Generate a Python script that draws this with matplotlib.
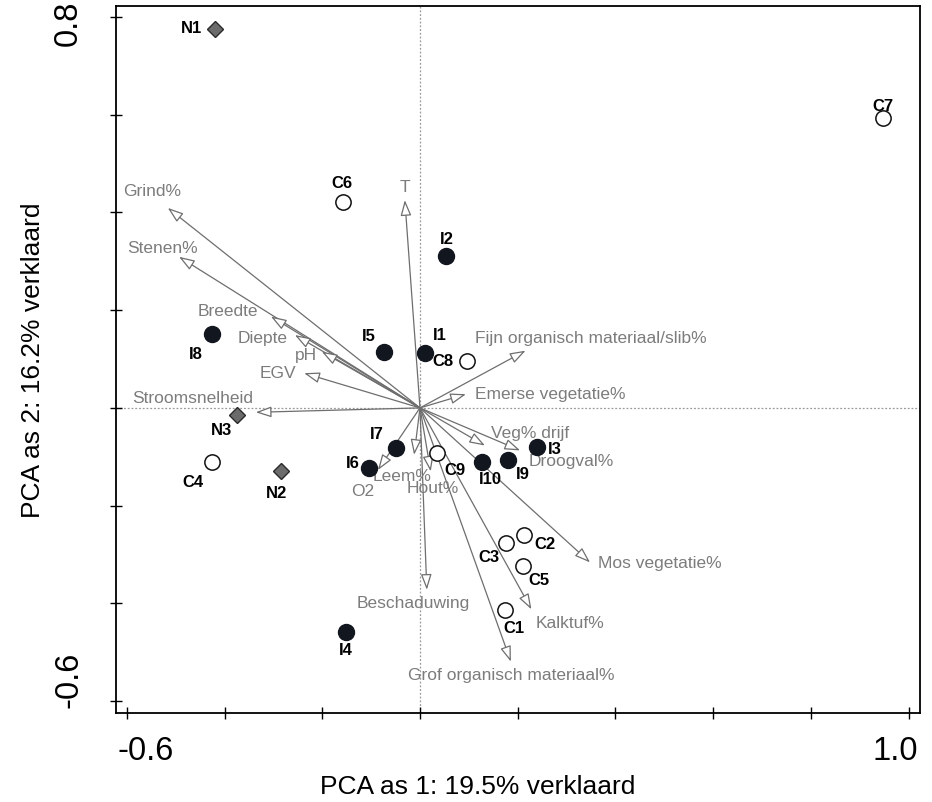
import numpy as np
from matplotlib import pyplot as plt

plt.rcParams['font.family'] = ['Liberation Sans', 'DejaVu Sans']

# site scores (PCA axis 1 / axis 2)
sites = ['N1', 'N2', 'N3',
         'C1', 'C2', 'C3', 'C4', 'C5', 'C6', 'C7', 'C8', 'C9',
         'I1', 'I2', 'I3', 'I4', 'I5', 'I6', 'I7', 'I8', 'I9', 'I10']
site_group = ['N', 'N', 'N',
              'C', 'C', 'C', 'C', 'C', 'C', 'C', 'C', 'C',
              'I', 'I', 'I', 'I', 'I', 'I', 'I', 'I', 'I', 'I']
site_x = [-0.419, -0.285, -0.375,
          0.174, 0.213, 0.177, -0.425, 0.211, -0.157, 0.948, 0.097, 0.035,
          0.010, 0.054, 0.239, -0.152, -0.074, -0.104, -0.050, -0.426, 0.180, 0.126]
site_y = [0.775, -0.129, -0.014,
          -0.413, -0.260, -0.277, -0.110, -0.323, 0.422, 0.592, 0.095, -0.092,
          0.112, 0.310, -0.079, -0.458, 0.114, -0.123, -0.081, 0.151, -0.107, -0.110]

# environmental variable loadings
variables = ['Grind%', 'Stenen%', 'Breedte', 'Diepte', 'pH', 'EGV', 'Stroomsnelheid',
             'O2', 'Leem%', 'Hout%', 'T', 'Fijn organisch materiaal/slib%',
             'Emerse vegetatie%', 'Veg% drijf', 'Droogval%', 'Mos vegetatie%',
             'Beschaduwing', 'Kalktuf%', 'Grof organisch materiaal%']
var_x = [-0.516, -0.493, -0.305, -0.256, -0.201, -0.237, -0.336,
         -0.086, -0.012, 0.022, -0.031, 0.216,
         0.094, 0.133, 0.205, 0.348,
         0.014, 0.228, 0.186]
var_y = [0.409, 0.309, 0.187, 0.149, 0.115, 0.071, -0.009,
         -0.127, -0.096, -0.130, 0.425, 0.117,
         0.028, -0.077, -0.087, -0.316,
         -0.372, -0.412, -0.519]

# label offsets in pixels (layout only)
site_off = {'N1': (-24, 0), 'C6': (-1, 18), 'I2': (0, 17), 'C7': (0, 12),
            'I8': (-16, -20), 'I5': (-15, 16), 'I1': (15, 18), 'C8': (-24, 0),
            'N3': (-15, -16), 'C4': (-19, -21), 'N2': (-4, -23), 'I7': (-19, 13),
            'I6': (-16, 5), 'C9': (18, -18), 'I10': (9, -18), 'I9': (15, -14),
            'I3': (18, -3), 'C2': (21, -9), 'C3': (-18, -14), 'C5': (16, -15),
            'C1': (9, -19), 'I4': (0, -19)}
var_off = {'Grind%': (-16, 16), 'Stenen%': (-17, 8), 'Breedte': (-43, 5),
           'Diepte': (-32, -3), 'pH': (-16, -4), 'EGV': (-26, 0),
           'Stroomsnelheid': (-63, 14), 'O2': (-15, -22), 'Leem%': (-12, -22),
           'Hout%': (2, -17), 'T': (0, 13), 'Fijn organisch materiaal/slib%': (65, 12),
           'Emerse vegetatie%': (84, 0), 'Veg% drijf': (45, 12), 'Droogval%': (51, -11),
           'Mos vegetatie%': (70, -1), 'Beschaduwing': (-14, -14),
           'Kalktuf%': (39, -14), 'Grof organisch materiaal%': (0, -14)}

fig = plt.figure(figsize=(9.32, 8.02), dpi=100)
ax = fig.add_axes([0.1245, 0.111, 0.8625, 0.8815])
ax.set_xlim(-0.622, 1.023)
ax.set_ylim(-0.624, 0.822)

ax.axhline(0, color='#9a9a9a', lw=0.9, ls=(0, (1.5, 1.5)), zorder=1)
ax.axvline(0, color='#9a9a9a', lw=0.9, ls=(0, (1.5, 1.5)), zorder=1)

grey_line = '#6e6e6e'
grey_text = '#7c7c7c'
for name, vx, vy in zip(variables, var_x, var_y):
    ax.annotate('', xy=(vx, vy), xytext=(0, 0),
                arrowprops=dict(arrowstyle='-|>,head_length=0.95,head_width=0.33',
                                fc='white', ec=grey_line, lw=0.9,
                                shrinkA=0, shrinkB=0, mutation_scale=10),
                zorder=2)
    ax.annotate(name, xy=(vx, vy), xytext=var_off[name], textcoords='offset pixels',
                ha='center', va='center', fontsize=12.5, color=grey_text, zorder=3)

styles = {'C': dict(marker='o', ms=11, mfc='white', mec='#111111', mew=1.1),
          'I': dict(marker='o', ms=11.5, mfc='#12161f', mec='#12161f', mew=1),
          'N': dict(marker='D', ms=8.3, mfc='#6b6b6b', mec='#2a2a2a', mew=1)}
for name, g, sx, sy in zip(sites, site_group, site_x, site_y):
    ax.plot(sx, sy, ls='none', zorder=4, **styles[g])
    ax.annotate(name, xy=(sx, sy), xytext=site_off[name], textcoords='offset pixels',
                ha='center', va='center', fontsize=12, fontweight='bold',
                color='black', zorder=5)

for s in ax.spines.values():
    s.set_linewidth(1.3)
ax.set_xticks(np.arange(-0.6, 1.01, 0.2))
ax.set_yticks(np.arange(-0.6, 0.81, 0.2))
ax.tick_params(direction='inout', length=8, width=1, labelbottom=False, labelleft=False)

# tick labels only at the ends, as in the original
ax.text(-0.561, -0.055, '-0.6', transform=ax.get_xaxis_transform(),
        ha='center', va='center', fontsize=23.5)
ax.text(0.973, -0.055, '1.0', transform=ax.get_xaxis_transform(),
        ha='center', va='center', fontsize=23.5)
ax.text(-0.059, 0.787, '0.8', transform=ax.get_yaxis_transform(),
        ha='center', va='center', fontsize=23.5, rotation=90)
ax.text(-0.059, -0.557, '-0.6', transform=ax.get_yaxis_transform(),
        ha='center', va='center', fontsize=23.5, rotation=90)

fig.text(478 / 932, 1 - 787 / 802, 'PCA as 1: 19.5% verklaard',
         ha='center', va='center', fontsize=19)
fig.text(33 / 932, 1 - 360 / 802, 'PCA as 2: 16.2% verklaard',
         ha='center', va='center', fontsize=19, rotation=90)

plt.savefig('out.png', dpi=100)
